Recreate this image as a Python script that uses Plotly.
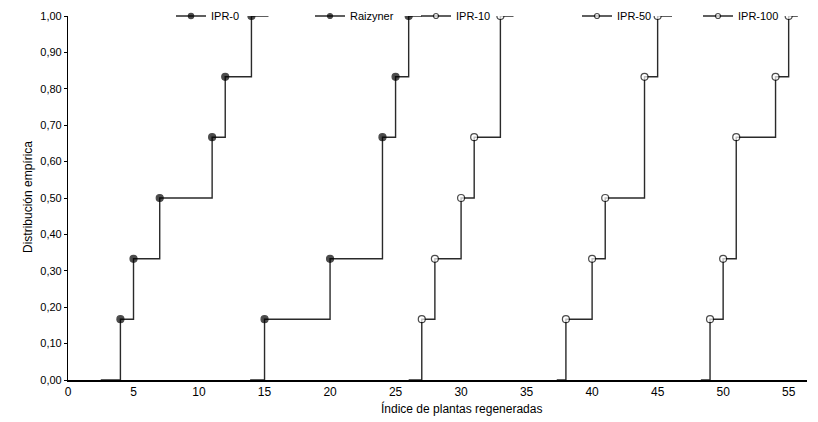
import plotly.graph_objects as go

# ---- data ----
ipr0_x = [4, 5, 7, 11, 12, 14]
ipr0_f = [0.167, 0.333, 0.5, 0.667, 0.833, 1.0]
ipr0_start, ipr0_end = 2.5, 15.3

raiz_x = [15, 20, 24, 25, 26]
raiz_f = [0.167, 0.333, 0.667, 0.833, 1.0]
raiz_start, raiz_end = 13.9, 27.0

ipr10_x = [27, 28, 30, 31, 33]
ipr10_f = [0.167, 0.333, 0.5, 0.667, 1.0]
ipr10_start, ipr10_end = 26.0, 34.0

ipr50_x = [38, 40, 41, 44, 45]
ipr50_f = [0.167, 0.333, 0.5, 0.833, 1.0]
ipr50_start, ipr50_end = 37.3, 46.1

ipr100_x = [49, 50, 51, 54, 55]
ipr100_f = [0.167, 0.333, 0.667, 0.833, 1.0]
ipr100_start, ipr100_end = 48.3, 55.7

names = ["IPR-0", "Raizyner", "IPR-10", "IPR-50", "IPR-100"]
filled = [True, True, False, False, False]
series = [
    (ipr0_x, ipr0_f, ipr0_start, ipr0_end),
    (raiz_x, raiz_f, raiz_start, raiz_end),
    (ipr10_x, ipr10_f, ipr10_start, ipr10_end),
    (ipr50_x, ipr50_f, ipr50_start, ipr50_end),
    (ipr100_x, ipr100_f, ipr100_start, ipr100_end),
]
# legend box left edges (px, page coords)
legend_left_px = [171, 310, 416, 577, 698]

x_ticks = list(range(0, 56, 5))
y_ticks = [0, 0.1, 0.2, 0.3, 0.4, 0.5, 0.6, 0.7, 0.8, 0.9, 1.0]

# page has an 8px body margin; compensate
OFF = 8
W, H = 818 - OFF, 422 - OFF
ml, mr, mt, mb = 68 - OFF, 11, 16 - OFF, 42
pw = W - ml - mr
ph = H - mt - mb

FONT = "Liberation Sans, Arial, sans-serif"
LINE = "#2a2a2a"

fig = go.Figure()
for i, (nm, (xs, fs, s, e), fl) in enumerate(zip(names, series, filled)):
    X = [s] + xs + [e]
    Y = [0] + fs + [fs[-1]]
    sizes = [0] + [7] * len(xs) + [0]
    leg = "legend" if i == 0 else f"legend{i+1}"
    fig.add_trace(go.Scatter(
        x=X, y=Y, mode="lines+markers", name=nm,
        line=dict(shape="hv", color=LINE, width=1.4),
        marker=dict(symbol="circle", size=sizes,
                    color="black" if fl else "white",
                    line=dict(color="black", width=1.2)),
        legend=leg, showlegend=True,
    ))

layout_legends = {}
for i, lx in enumerate(legend_left_px):
    key = "legend" if i == 0 else f"legend{i+1}"
    layout_legends[key] = dict(
        x=(lx - OFF) / W, xref="container",
        y=1 - (16 - OFF) / H, yref="container",
        xanchor="left", yanchor="middle",
        bgcolor="rgba(0,0,0,0)", borderwidth=0,
        font=dict(family=FONT, size=11, color="black"),
        itemwidth=30, tracegroupgap=0,
    )

fig.update_layout(
    width=W, height=H,
    margin=dict(l=ml, r=mr, t=mt, b=mb, autoexpand=False),
    paper_bgcolor="white", plot_bgcolor="white",
    separators=",.",
    font=dict(family=FONT, size=11, color="black"),
    **layout_legends,
)
fig.update_xaxes(
    range=[0, 56.4], tickvals=x_ticks, ticktext=[str(v) for v in x_ticks],
    showgrid=False, zeroline=False, showline=True, linecolor="black", linewidth=1.5,
    ticks="", tickfont=dict(family=FONT, size=12, color="black"),
    title=None,
)
fig.update_yaxes(
    range=[0, 1.0], tickvals=y_ticks, tickformat=".2f",
    showgrid=False, zeroline=False, showline=True, linecolor="black", linewidth=1.2,
    ticks="outside", ticklen=3, tickcolor="black",
    tickfont=dict(family=FONT, size=11, color="black"),
    title=None,
)
fig.add_annotation(
    x=(461 - 68) / pw, y=-28 / ph, xref="paper", yref="paper",
    text="Índice de plantas regeneradas", showarrow=False,
    xanchor="center", yanchor="middle",
    font=dict(family=FONT, size=12, color="black"),
)
fig.add_annotation(
    x=(28 - 68) / pw, y=(380 - 197) / ph, xref="paper", yref="paper",
    text="Distribución empírica", showarrow=False, textangle=-90,
    xanchor="center", yanchor="middle",
    font=dict(family=FONT, size=12, color="black"),
)

fig.write_html("out.html")
